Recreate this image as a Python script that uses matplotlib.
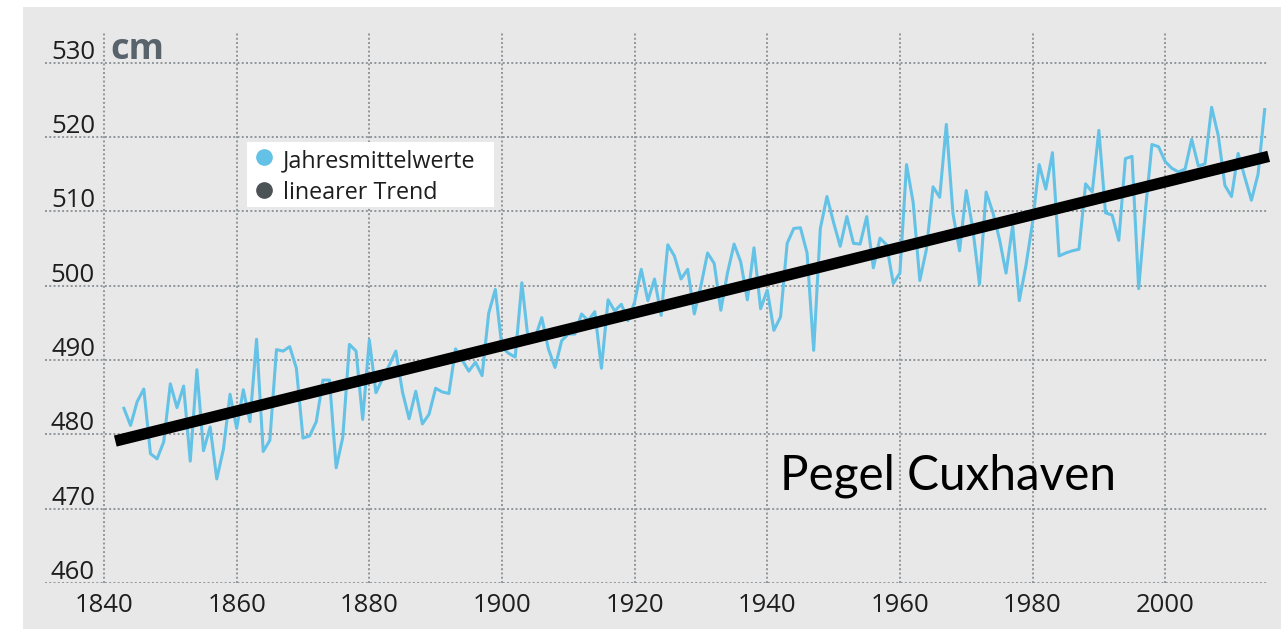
import matplotlib
matplotlib.use("Agg")
import matplotlib.pyplot as plt
import matplotlib.transforms as mtransforms
from matplotlib.patches import Rectangle
from matplotlib.lines import Line2D

W, H = 1281, 629

BG = "#e8e8e8"
LINE_BLUE = "#64c2e6"
DARK_DOT = "#4b5357"
GRID = "#8f969a"
TEXT = "#1e1e1e"
FONT = "Open Sans"

# Jahresmittelwerte, Pegel Cuxhaven (cm)
years = list(range(1843, 2016))
levels = [
    483.5, 481.2, 484.4, 486.1, 477.4, 476.7, 479.0,                      # 1843-1849
    486.8, 483.6, 486.5, 476.4, 488.7, 477.8, 481.0, 474.0, 478.0, 485.4,  # 1850-1859
    480.8, 486.0, 481.7, 492.8, 477.7, 479.2, 491.4, 491.2, 491.8, 488.9,  # 1860-1869
    479.5, 479.8, 481.7, 487.3, 487.3, 475.5, 479.6, 492.1, 491.2, 482.0,  # 1870-1879
    492.7, 485.6, 487.5, 489.3, 491.2, 485.7, 482.1, 485.8, 481.4, 482.7,  # 1880-1889
    486.2, 485.7, 485.5, 491.5, 490.0, 488.5, 489.7, 487.9, 496.3, 499.5,  # 1890-1899
    491.7, 490.9, 490.4, 500.4, 492.3, 493.0, 495.7, 491.5, 489.0, 492.6,  # 1900-1909
    493.5, 493.5, 496.2, 495.3, 496.5, 488.9, 498.1, 496.6, 497.5, 495.3,  # 1910-1919
    497.8, 502.2, 498.0, 500.9, 496.0, 505.5, 504.0, 500.9, 502.2, 496.2,  # 1920-1929
    500.0, 504.4, 503.0, 496.7, 501.7, 505.6, 503.2, 498.1, 505.1, 496.9,  # 1930-1939
    499.4, 494.0, 495.8, 505.7, 507.7, 507.8, 504.4, 491.3, 507.7, 512.0,  # 1940-1949
    508.5, 505.3, 509.3, 505.7, 505.6, 509.3, 502.4, 506.4, 505.5, 500.3,  # 1950-1959
    501.7, 516.3, 511.2, 500.7, 504.9, 513.3, 511.9, 521.7, 509.7, 504.7,  # 1960-1969
    512.8, 507.6, 500.2, 512.6, 509.9, 506.3, 501.7, 508.1, 498.0, 502.7,  # 1970-1979
    508.5, 516.3, 513.0, 517.9, 504.0, 504.4, 504.7, 504.9, 513.7, 512.6,  # 1980-1989
    520.9, 509.8, 509.5, 506.1, 517.1, 517.4, 499.6, 510.0, 519.0, 518.7,  # 1990-1999
    516.7, 515.8, 515.3, 515.7, 519.7, 516.1, 516.4, 524.0, 520.2, 513.5,  # 2000-2009
    512.0, 517.8, 514.6, 511.5, 515.0, 523.7,                              # 2010-2015
]

# linearer Trend (end points)
trend_years = [1841.7, 2015.6]
trend_levels = [479.1, 517.4]

x_ticks = [1840, 1860, 1880, 1900, 1920, 1940, 1960, 1980, 2000]
y_ticks = [460, 470, 480, 490, 500, 510, 520, 530]


def fx(px):
    return px / W


def fy(py):
    return 1 - py / H


fig = plt.figure(figsize=(W / 100, H / 100), dpi=100)
fig.patch.set_facecolor("white")
fig.add_artist(Rectangle((fx(23), 0), 1 - fx(23), fy(7), transform=fig.transFigure,
                         facecolor=BG, edgecolor="none", zorder=-5))

ax = fig.add_axes([fx(45), fy(583), fx(1268) - fx(45), fy(33) - fy(583)])
ax.set_facecolor("none")
ax.set_xlim(1831.1, 2015.5)
ax.set_ylim(460, 534)

ax.set_xticks(x_ticks)
ax.set_yticks(y_ticks)
ax.set_yticklabels([])
ax.tick_params(length=0, pad=7)
for lab in ax.get_xticklabels():
    lab.set_fontfamily(FONT)
    lab.set_fontsize(18.5)
    lab.set_color(TEXT)
for spine in ax.spines.values():
    spine.set_visible(False)
ax.grid(True, color=GRID, linewidth=1.4, linestyle=(0, (1, 1.2)))
ax.set_axisbelow(True)

ax.plot(years, levels, color=LINE_BLUE, linewidth=2.2, zorder=3)
ax.plot(trend_years, trend_levels, color="black", linewidth=8.2,
        solid_capstyle="butt", zorder=4, clip_on=False)

# y labels sit above their grid lines
ytrans = mtransforms.blended_transform_factory(ax.transAxes, ax.transData) + \
    mtransforms.ScaledTranslation(0, 0.04, fig.dpi_scale_trans)
xr = (95 - 45) / (1268 - 45)
for v in y_ticks:
    ax.text(xr, v, str(v), transform=ytrans, ha="right", va="baseline",
            fontsize=18.5, family=FONT, color=TEXT)

fig.text(fx(110), fy(59), "cm", fontsize=26, fontweight="bold", color="#58636b",
         family=FONT, va="baseline")

# legend box
fig.add_artist(Rectangle((fx(247), fy(207)), fx(494) - fx(247), fy(142) - fy(207),
                         transform=fig.transFigure, facecolor="white", edgecolor="none", zorder=5))
fig.add_artist(Line2D([fx(264)], [fy(157)], marker="o", markersize=11, color=LINE_BLUE,
                      linestyle="none", transform=fig.transFigure, zorder=6))
fig.add_artist(Line2D([fx(264)], [fy(190)], marker="o", markersize=11, color=DARK_DOT,
                      linestyle="none", transform=fig.transFigure, zorder=6))
fig.text(fx(283), fy(167.5), "Jahresmittelwerte", fontsize=16.8, family=FONT,
         color=TEXT, va="baseline", zorder=7)
fig.text(fx(283), fy(198.5), "linearer Trend", fontsize=16.8, family=FONT,
         color=TEXT, va="baseline", zorder=7)

fig.text(fx(780), fy(490), "Pegel Cuxhaven", fontsize=34.3, family="Lato",
         color="black", va="baseline")

fig.savefig("out.png", dpi=100, facecolor=fig.get_facecolor())
